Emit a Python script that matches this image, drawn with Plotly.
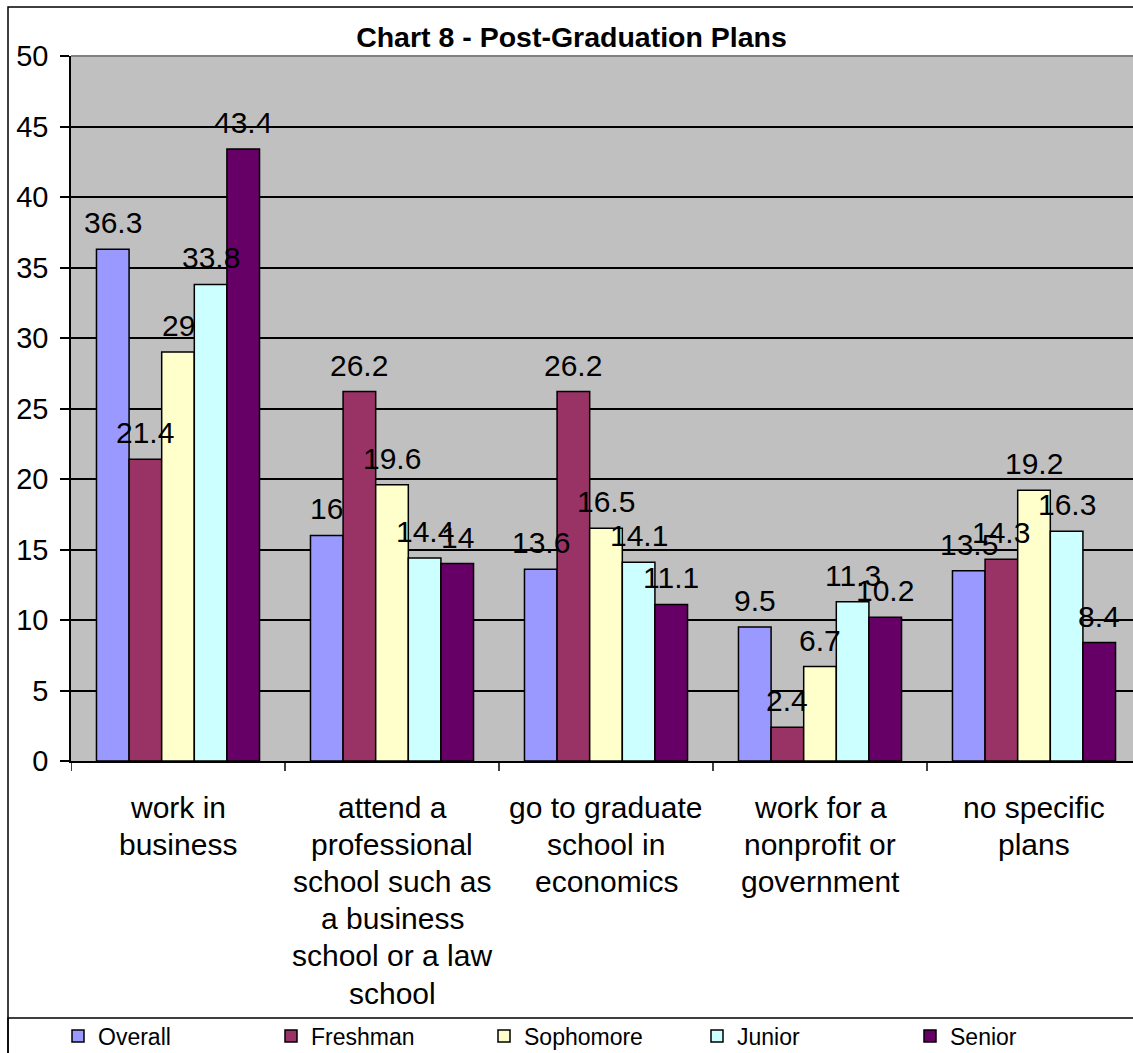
import plotly.graph_objects as go

# Survey responses (percent) by class year
categories = [
    ["work in", "business"],
    ["attend a", "professional", "school such as", "a business", "school or a law", "school"],
    ["go to graduate", "school in", "economics"],
    ["work for a", "nonprofit or", "government"],
    ["no specific", "plans"],
]
series_names = ["Overall", "Freshman", "Sophomore", "Junior", "Senior"]
overall = [36.3, 16, 13.6, 9.5, 13.5]
freshman = [21.4, 26.2, 26.2, 2.4, 14.3]
sophomore = [29, 19.6, 16.5, 6.7, 19.2]
junior = [33.8, 14.4, 14.1, 11.3, 16.3]
senior = [43.4, 14, 11.1, 10.2, 8.4]
y_ticks = list(range(0, 55, 5))

series_values = [overall, freshman, sophomore, junior, senior]
colors = ["#9999FF", "#993366", "#FFFFCC", "#CCFFFF", "#660066"]

FONT = "Liberation Sans, Arial, sans-serif"
W, H = 1133, 1053
ML, MR, MT, MB = 71, 0, 56, 292
BARGAP = 0.238
GROUP_PX = 214  # width of one category slot in pixels

plot_w = W - ML - MR
plot_h = H - MT - MB


def px_x(px):
    return (px - ML) / plot_w


def px_y(py):
    return (H - MB - py) / plot_h


xpos = list(range(len(categories)))

fig = go.Figure()
for name, vals, col in zip(series_names, series_values, colors):
    fig.add_trace(go.Bar(
        name=name,
        x=xpos,
        y=vals,
        marker=dict(color=col, line=dict(color="black", width=1.5)),
    ))

# value labels above each bar
n = len(series_names)
bw = (1 - BARGAP) / n
for j, vals in enumerate(series_values):
    for i, v in enumerate(vals):
        fig.add_annotation(
            x=i + (j - (n - 1) / 2) * bw, y=v, xref="x", yref="y",
            text=f"{v:g}", showarrow=False, yanchor="bottom", yshift=8,
            font=dict(family=FONT, size=30, color="black"),
        )

# category labels, one text line at a time for tight line spacing
for i, lines in enumerate(categories):
    for k, line in enumerate(lines):
        fig.add_annotation(
            x=i, y=px_y(807 + 37.2 * k), xref="x", yref="paper",
            text=line, showarrow=False, xanchor="center", yanchor="middle",
            font=dict(family=FONT, size=30, color="black"),
        )

# chart frame, plot-area top edge and legend box
fig.add_shape(type="rect", xref="paper", yref="paper",
              x0=px_x(8), x1=1.02, y0=px_y(1100), y1=px_y(7),
              line=dict(color="black", width=1.5))
fig.add_shape(type="rect", xref="paper", yref="paper",
              x0=px_x(8), x1=1.02, y0=px_y(1100), y1=px_y(1018),
              line=dict(color="black", width=1.5))
fig.add_shape(type="line", xref="paper", yref="paper",
              x0=0, x1=1, y0=1, y1=1,
              line=dict(color="#808080", width=2))

fig.update_layout(
    width=W, height=H,
    margin=dict(l=ML, r=MR, t=MT, b=MB, autoexpand=False),
    paper_bgcolor="white",
    plot_bgcolor="#C0C0C0",
    barmode="group", bargap=BARGAP, bargroupgap=0,
    font=dict(family=FONT, color="black"),
    title=dict(text="<b>Chart 8 - Post-Graduation Plans</b>",
               x=(355 + 788) / 2 / W, xanchor="center", xref="container",
               y=1 - 37 / H, yanchor="middle", yref="container",
               font=dict(family=FONT, size=28.5, color="black")),
    showlegend=True,
    legend=dict(orientation="h", x=58 / W, xanchor="left", xref="container",
                y=1 - 1036 / H, yanchor="middle", yref="container",
                entrywidth=168, entrywidthmode="pixels",
                font=dict(family=FONT, size=23, color="black"),
                bgcolor="rgba(0,0,0,0)", traceorder="normal"),
    xaxis=dict(
        tickmode="array", tickvals=xpos, ticktext=[""] * len(xpos),
        range=[-0.5, -0.5 + plot_w / GROUP_PX],
        showgrid=False, zeroline=False,
        showline=True, linecolor="black", linewidth=1.5,
        ticks="",
    ),
    yaxis=dict(
        range=[0, 50], tickvals=y_ticks,
        showgrid=True, gridcolor="black", gridwidth=1.5,
        zeroline=False,
        showline=True, linecolor="black", linewidth=1.5,
        ticks="outside", ticklen=9, tickcolor="black", tickwidth=1.5,
        tickfont=dict(family=FONT, size=29, color="black"),
        ticklabelstandoff=6,
    ),
)

# category separators below the axis
for k in range(len(categories) + 1):
    fig.add_shape(type="line", xref="x", yref="paper",
                  x0=k - 0.5, x1=k - 0.5, y0=0, y1=-10 / plot_h,
                  line=dict(color="black", width=1.5))

fig.write_html("out.html")
